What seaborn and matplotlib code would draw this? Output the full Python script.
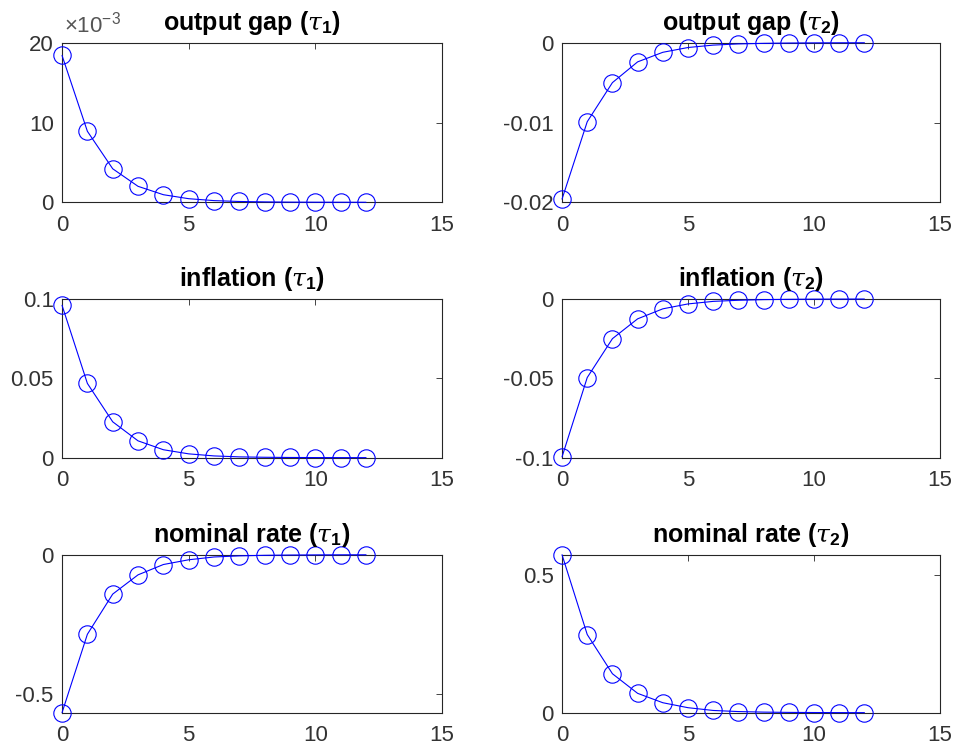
import numpy as np
import pandas as pd
import seaborn as sns
import matplotlib
matplotlib.use("Agg")
import matplotlib.pyplot as plt
from matplotlib.ticker import FuncFormatter

# Impulse responses over a 12-period horizon
horizon = list(range(13))

output_gap_t1 = [0.0184, 0.0089, 0.0042, 0.0020, 0.00095, 0.00045, 0.00021,
                 0.0001, 0.00005, 0.00002, 0.00001, 0.000005, 0.000002]
output_gap_t2 = [-0.0196, -0.0099, -0.0050, -0.0024, -0.0012, -0.0006, -0.0003,
                 -0.00015, -0.00008, -0.00004, -0.00002, -0.00001, -0.000005]
inflation_t1 = [0.0960, 0.0468, 0.0226, 0.0106, 0.0050, 0.0024, 0.0011,
                0.0005, 0.00025, 0.00012, 0.00006, 0.00003, 0.000015]
inflation_t2 = [-0.0995, -0.0495, -0.0250, -0.0125, -0.0062, -0.0031, -0.0015,
                -0.0008, -0.0004, -0.0002, -0.0001, -0.00005, -0.00002]
nominal_t1 = [-0.566, -0.285, -0.141, -0.072, -0.035, -0.018, -0.008,
              -0.004, -0.002, -0.001, -0.0005, -0.0002, -0.0001]
nominal_t2 = [0.572, 0.283, 0.141, 0.070, 0.036, 0.018, 0.008,
              0.004, 0.002, 0.001, 0.0005, 0.0002, 0.0001]

titles = [
    r"output gap ($\tau_\mathbf{1}$)", r"output gap ($\tau_\mathbf{2}$)",
    r"inflation ($\tau_\mathbf{1}$)", r"inflation ($\tau_\mathbf{2}$)",
    r"nominal rate ($\tau_\mathbf{1}$)", r"nominal rate ($\tau_\mathbf{2}$)",
]
series = [output_gap_t1, output_gap_t2, inflation_t1, inflation_t2,
          nominal_t1, nominal_t2]
y_limits = [(0, 0.02), (-0.02, 0), (0, 0.1), (-0.1, 0),
            (nominal_t1[0], 0), (0, nominal_t2[0])]
y_ticks = [[0, 0.01, 0.02], [-0.02, -0.01, 0], [0, 0.05, 0.1], [-0.1, -0.05, 0],
           [-0.5, 0], [0, 0.5]]
x_ticks = [0, 5, 10, 15]

sns.set_theme(style="white")
plt.rcParams["font.family"] = ["Liberation Sans", "DejaVu Sans"]
plt.rcParams["axes.unicode_minus"] = False
plt.rcParams["mathtext.fontset"] = "custom"
plt.rcParams["mathtext.rm"] = "Liberation Sans"
plt.rcParams["mathtext.bf"] = "Liberation Sans:bold"
plt.rcParams["mathtext.it"] = "DejaVu Serif:italic"

axis_color = "#262626"
label_color = "#333333"
tick_size = 16
title_size = 18
line_color = "#0000ff"

fig = plt.figure(figsize=(9.56, 7.52), dpi=100)
fig.patch.set_facecolor("white")

col_left = [0.0649, 0.5879]
col_width = [0.3975, 0.3954]
row_bottom = [0.731, 0.3914, 0.0523]
row_height = [0.2122, 0.2110, 0.2100]

def fmt_plain(v, _pos):
    s = f"{v:.10g}"
    return "0" if s in ("0", "-0") else s

for i, (vals, title) in enumerate(zip(series, titles)):
    r, c = divmod(i, 2)
    ax = fig.add_axes([col_left[c], row_bottom[r], col_width[c], row_height[r]])
    df = pd.DataFrame({"t": horizon, "v": vals})
    sns.lineplot(data=df, x="t", y="v", ax=ax, color=line_color, linewidth=0.8,
                 marker="o", markersize=12.5, markerfacecolor="none",
                 markeredgecolor=line_color, markeredgewidth=0.8,
                 clip_on=False, zorder=3)
    ax.set_xlim(0, 15)
    ax.set_ylim(*y_limits[i])
    ax.set_xticks(x_ticks)
    ax.set_yticks(y_ticks[i])
    if i == 0:
        ax.yaxis.set_major_formatter(FuncFormatter(lambda v, p: f"{v * 1e3:.0f}"))
        ax.text(0.005, 1.03, r"$\mathregular{\times10^{-3}}$", transform=ax.transAxes,
                ha="left", va="bottom", fontsize=tick_size, color="#555555")
    else:
        ax.yaxis.set_major_formatter(FuncFormatter(fmt_plain))
    ax.set_xlabel("")
    ax.set_ylabel("")
    ax.tick_params(direction="in", length=4, width=0.6, colors=axis_color,
                   labelsize=tick_size, top=True, right=True)
    ax.tick_params(axis="x", pad=9)
    ax.tick_params(axis="y", pad=6)
    for lbl in ax.get_xticklabels() + ax.get_yticklabels():
        lbl.set_color(label_color)
    for sp in ax.spines.values():
        sp.set_color(axis_color)
        sp.set_linewidth(0.8)
    ax.set_title(title, fontsize=title_size, fontweight="bold", color="black", pad=9)

fig.savefig("out.png", dpi=100, facecolor="white")
